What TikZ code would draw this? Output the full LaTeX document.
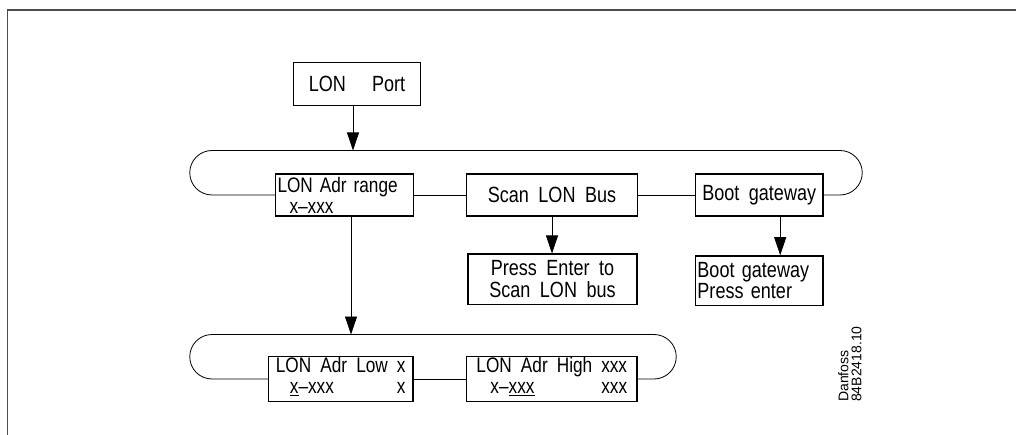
\documentclass[tikz,border=0pt]{standalone}
\usepackage{fontspec}
\setmainfont{Liberation Sans}[FakeStretch=0.82, WordSpace=1.9]
\newfontfamily\notefont{Liberation Sans}
\usetikzlibrary{arrows.meta}
\newcommand{\boxfont}{\fontsize{22}{19}\selectfont}
\newcommand{\pairfont}{\fontsize{21}{21}\selectfont}

\begin{document}
\begin{tikzpicture}[
  x=1pt, y=-1pt,
  box/.style={draw, line width=1.4pt, inner sep=1pt, font=\boxfont},
  bus/.style={line width=0.8pt},
  arr/.style={-{Triangle[length=18pt, width=12pt]}, line width=0.8pt}
]
\useasboundingbox (0,0) rectangle (1016,435);
% page frame
\draw[line width=1.5pt, black!70] (1016,10) -- (7.5,10) -- (7.5,435);
% entry
\node[box, minimum width=127pt, minimum height=43pt] (port) at (357,84) {LON\hspace{26pt}Port};
% first menu loop
\node[box, text width=134pt, align=left, inner xsep=2pt, minimum height=42pt, font=\pairfont] (range) at (344.5,195) {LON Adr range\\\hspace*{12pt}x--xxx};
\node[box, minimum width=171pt, minimum height=42pt] (scan) at (552,195) {Scan LON Bus};
\node[box, minimum width=127.5pt, minimum height=42pt] (boot) at (759.2,195) {Boot gateway};
\node[box, minimum width=169pt, minimum height=50pt, align=center, font={\fontsize{22}{22}\selectfont}] (scanmsg) at (552.5,279.2) {Press Enter to\\Scan LON bus};
\node[box, text width=123.5pt, inner xsep=2pt, align=left, minimum height=49.5pt, font={\fontsize{22}{21}\selectfont}] (bootmsg) at (759.2,280.7) {Boot gateway\\Press enter};
% second menu loop
\node[box, minimum width=144.5pt, minimum height=43pt, font=\pairfont] (low) at (340.7,379) {\begin{tabular}{@{}l@{\hspace{9pt}}r@{}}LON Adr Low & x\\\hspace*{14pt}\underline{x}--xxx & x\end{tabular}};
\node[box, minimum width=170.3pt, minimum height=43pt, font=\pairfont] (high) at (551.8,379) {\begin{tabular}{@{}l@{\hspace{9pt}}r@{}}LON Adr High & xxx\\\hspace*{14pt}x--\underline{xxx} & xxx\end{tabular}};
% drawing number
\node[rotate=90, anchor=north west, align=left, inner sep=0pt, font={\notefont\fontsize{14}{13}\selectfont}] (docref) at (838,402) {Danfoss\\84B2418.10};

\coordinate (topbus) at (353,150.5);
\coordinate (lowbus) at (351,334.5);
\draw[arr] (port.south -| topbus) -- (topbus);
\draw[bus] (range.west) -- (212,195) arc[start angle=270, end angle=90, radius=22.25pt] -- (840,150.5) arc[start angle=90, end angle=-90, radius=22.25pt] -- (boot.east);
\draw[bus] (range.east) -- (scan.west);
\draw[bus] (scan.east) -- (boot.west);
\draw[arr] (scan.south) -- (scan.south |- scanmsg.north);
\draw[arr] ([xshift=21pt]boot.south) -- ([xshift=21pt]boot.south |- bootmsg.north);
\draw[arr] (range.south -| lowbus) -- (lowbus);
\draw[bus] (low.west) -- (212,379) arc[start angle=270, end angle=90, radius=22.25pt] -- (654,334.5) arc[start angle=90, end angle=-90, radius=22.25pt] -- (high.east);
\draw[bus] (low.east) -- (high.west);
\end{tikzpicture}
\end{document}
